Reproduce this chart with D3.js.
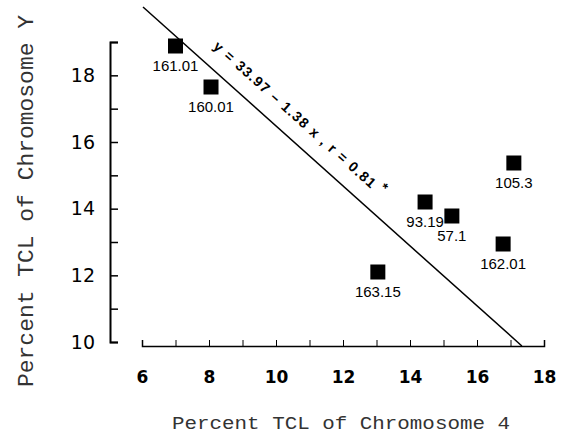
<html>

<head>
    <script src="https://d3js.org/d3.v7.min.js"></script>
    <style>
        body { margin: 0; background: #fff; }
    </style>
</head>

<body></body>
<script>

    // data
    var labels = ["161.01", "160.01", "93.19", "57.1", "105.3", "162.01", "163.15"];
    var xVals = [7.0, 8.06, 14.45, 15.25, 17.1, 16.78, 13.04];
    var yVals = [18.88, 17.65, 14.2, 13.78, 15.37, 12.94, 12.1];

    // drawn regression line (end points as plotted)
    var lineX = [6.03, 17.34];
    var lineY = [20.05, 9.88];

    var xTicks = d3.range(6, 19, 1);
    var xTickLabels = [6, 8, 10, 12, 14, 16, 18];
    var yTicks = d3.range(10, 20, 1);
    var yTickLabels = [10, 12, 14, 16, 18];

    var equation = "y = 33.97 \u2013 1.38 x , r = 0.81";

    var width = 566, height = 436;

    var svg = d3.select("body")
        .append("svg")
        .attr("width", width)
        .attr("height", height);

    // scales
    const x = d3.scaleLinear()
        .domain([6, 18])
        .range([142, 544]);

    const y = d3.scaleLinear()
        .domain([10, 19])
        .range([342, 42]);

    //x-axis
    var xAxis = svg.append("g")
        .attr("transform", "translate(0,346)")
        .call(d3.axisBottom(x)
            .tickValues(xTicks)
            .tickSize(-6)
            .tickSizeOuter(-6)
            .tickPadding(25)
            .tickFormat(function (d) { return xTickLabels.indexOf(d) >= 0 ? d : ""; }));

    xAxis.select(".domain").attr("stroke-width", 1.5);
    xAxis.selectAll("text")
        .style("font-family", "DejaVu Sans")
        .style("font-size", "17px")
        .style("font-weight", "bold")
        .attr("fill", "#000");

    //y-axis
    var yAxis = svg.append("g")
        .attr("transform", "translate(110,0)")
        .call(d3.axisLeft(y)
            .tickValues(yTicks)
            .tickSize(-8)
            .tickSizeOuter(-8)
            .tickPadding(15)
            .tickFormat(function (d) { return yTickLabels.indexOf(d) >= 0 ? d : ""; }));

    yAxis.select(".domain").attr("stroke-width", 2);
    yAxis.selectAll(".tick line").attr("stroke-width", 1.5);
    yAxis.selectAll("text")
        .style("font-family", "DejaVu Sans")
        .style("font-size", "19px")
        .attr("fill", "#000");

    // axis titles
    svg.append("text")
        .attr("x", 341)
        .attr("y", 429)
        .attr("text-anchor", "middle")
        .attr("textLength", 338)
        .attr("lengthAdjust", "spacingAndGlyphs")
        .attr("fill", "#333")
        .style("font-family", "Liberation Mono")
        .style("font-size", "18px")
        .text("Percent TCL of Chromosome 4");

    svg.append("text")
        .attr("transform", "translate(33,201) rotate(-90)")
        .attr("text-anchor", "middle")
        .attr("textLength", 372)
        .attr("lengthAdjust", "spacingAndGlyphs")
        .attr("fill", "#333")
        .style("font-family", "Liberation Mono")
        .style("font-size", "22px")
        .text("Percent TCL of Chromosome Y");

    // regression line
    svg.append("line")
        .attr("x1", x(lineX[0]))
        .attr("y1", y(lineY[0]))
        .attr("x2", x(lineX[1]))
        .attr("y2", y(lineY[1]))
        .attr("stroke", "#000")
        .attr("stroke-width", 1.5);

    // equation along the line
    var ang = Math.atan2(y(lineY[1]) - y(lineY[0]), x(lineX[1]) - x(lineX[0])) * 180 / Math.PI;
    var eq = svg.append("text")
        .attr("transform", "translate(296,122) rotate(" + ang + ")")
        .attr("text-anchor", "middle")
        .style("font-family", "Liberation Sans")
        .style("font-size", "14px")
        .style("font-weight", "bold");
    eq.append("tspan")
        .attr("textLength", 212)
        .attr("lengthAdjust", "spacing")
        .text(equation);
    eq.append("tspan")
        .attr("dx", 5)
        .attr("dy", -5)
        .text("*");

    // points
    var pts = d3.range(labels.length);

    svg.append("g")
        .selectAll("rect")
        .data(pts)
        .enter()
        .append("rect")
        .attr("x", function (i) { return x(xVals[i]) - 7.5; })
        .attr("y", function (i) { return y(yVals[i]) - 7.5; })
        .attr("width", 15)
        .attr("height", 15)
        .attr("fill", "#000");

    svg.append("g")
        .selectAll("text")
        .data(pts)
        .enter()
        .append("text")
        .attr("x", function (i) { return x(xVals[i]); })
        .attr("y", function (i) { return y(yVals[i]) + 25; })
        .attr("text-anchor", "middle")
        .style("font-family", "Liberation Sans")
        .style("font-size", "15px")
        .text(function (i) { return labels[i]; });

</script>

</html>
